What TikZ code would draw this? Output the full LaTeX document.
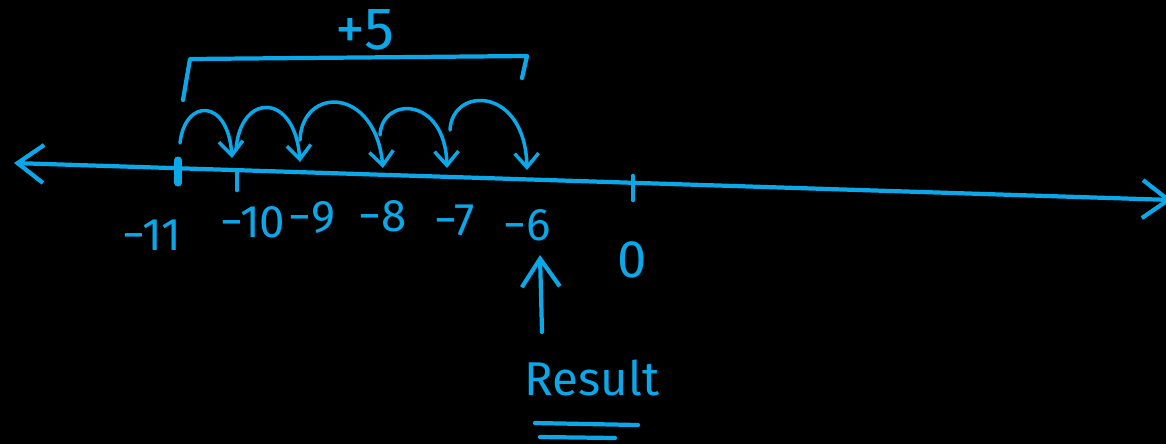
\documentclass[tikz,border=0pt]{standalone}
\usepackage{fontspec}
\setmainfont{Fira Sans}
\usetikzlibrary{positioning, arrows.meta, calc}
\definecolor{inkcol}{RGB}{10, 168, 232}

\begin{document}
\begin{tikzpicture}[
      ink/.style={draw=inkcol, line width=1.2pt, line cap=round, line join=round},
      hop/.style={ink, line width=1pt, -{Straight Barb[length=1.4mm, width=2.4mm]}},
      tick/.style={ink, line width=1.3pt},
      num/.style={text=inkcol, font=\fontsize{13}{15}\selectfont, inner sep=1pt}]

      % Fond et cadre
      \fill[black] (0,0) rectangle (11.66,-4.44);
      \useasboundingbox (0,0) rectangle (11.66,-4.44);

      % Droite graduee
      \coordinate (lend) at (0.14,-1.63);
      \coordinate (rend) at (11.72,-2.00);
      \draw[ink, {Straight Barb[length=2.6mm, width=3.8mm]}-{Straight Barb[length=2.6mm, width=3.8mm]}] (lend) -- (rend);

      % Graduations
      \coordinate (t11) at (1.78,-1.68);
      \coordinate (t10) at (2.37,-1.70);
      \coordinate (t0)  at (6.33,-1.83);
      \draw[tick, line width=2pt] ($(t11)+(0,0.08)$) -- ($(t11)+(0,-0.15)$);
      \draw[tick] ($(t10)+(0,-0.02)$) -- ($(t10)+(0,-0.20)$);
      \draw[tick] ($(t0)+(0,0.07)$) -- ($(t0)+(0,-0.17)$);

      % Etiquettes
      \node[num] (n11) at (1.52,-2.35) {−11};
      \node[num] (n10) at (2.53,-2.22) {−10};
      \node[num] (n9)  at (3.12,-2.17) {−9};
      \node[num] (n8)  at (3.83,-2.16) {−8};
      \node[num] (n7)  at (4.55,-2.20) {−7};
      \node[num] (n6)  at (5.27,-2.25) {−6};
      \node[num, font=\fontsize{15}{17}\selectfont] (n0) at (6.32,-2.60) {0};

      % Sauts de +1
      \coordinate (s1) at (1.80,-1.43);
      \coordinate (e1) at (2.32,-1.58);
      \coordinate (s2) at (2.36,-1.50);
      \coordinate (e2) at (3.00,-1.62);
      \coordinate (s3) at (3.00,-1.40);
      \coordinate (e3) at (3.83,-1.68);
      \coordinate (s4) at (3.80,-1.35);
      \coordinate (e4) at (4.47,-1.68);
      \coordinate (s5) at (4.50,-1.30);
      \coordinate (e5) at (5.27,-1.70);
      \draw[hop] (s1) .. controls (1.85,-0.98) and (2.28,-0.98) .. (e1);
      \draw[hop] (s2) .. controls (2.40,-0.92) and (2.95,-0.92) .. (e2);
      \draw[hop] (s3) .. controls (3.02,-0.86) and (3.75,-0.86) .. (e3);
      \draw[hop] (s4) .. controls (3.82,-0.96) and (4.45,-0.96) .. (e4);
      \draw[hop] (s5) .. controls (4.52,-0.86) and (5.25,-0.86) .. (e5);

      % Accolade
      \coordinate (b1) at (1.83,-1.00);
      \coordinate (b2) at (1.90,-0.59);
      \coordinate (b3) at (5.27,-0.56);
      \coordinate (b4) at (5.22,-0.78);
      \draw[ink] (b1) -- (b2) -- (b3) -- (b4);
      \node[num, font=\fontsize{17}{19}\selectfont] (plus) at (3.65,-0.30) {+5};

      % Resultat
      \node[num, font=\fontsize{13.5}{16}\selectfont] (res) at (5.92,-3.78) {Result};
      \coordinate (up) at (5.40,-2.55);
      \coordinate (foot) at (5.42,-3.32);
      \draw[ink, -{Straight Barb[length=2.8mm, width=3.8mm]}] (foot) -- (up);
      \coordinate (u1) at (5.35,-4.23);
      \coordinate (u2) at (6.38,-4.25);
      \coordinate (u3) at (5.40,-4.37);
      \coordinate (u4) at (6.15,-4.38);
      \draw[ink] (u1) -- (u2);
      \draw[ink] (u3) -- (u4);
    \end{tikzpicture}
\end{document}
